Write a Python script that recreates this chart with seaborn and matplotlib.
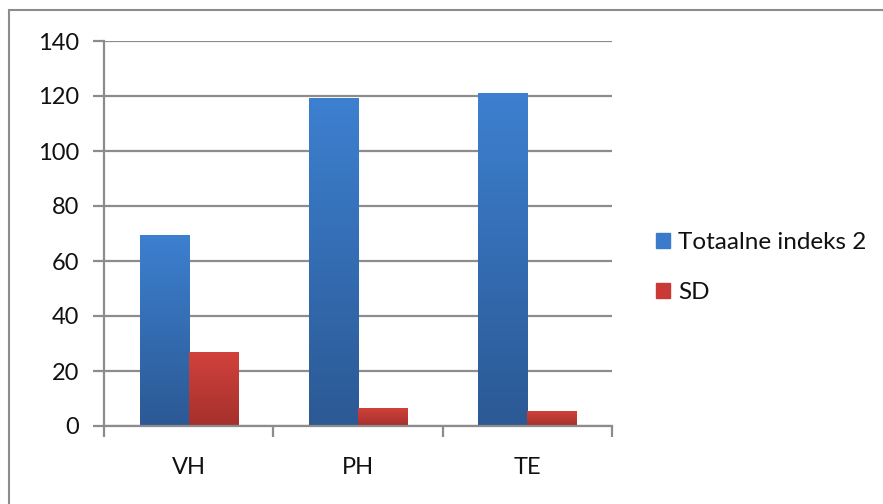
import matplotlib
matplotlib.use("Agg")
import matplotlib.pyplot as plt
import matplotlib.patches as mpatches
from matplotlib.colors import LinearSegmentedColormap
import numpy as np
import pandas as pd
import seaborn as sns

categories = ["VH", "PH", "TE"]
totaalne = [69.5, 119.2, 121.0]
sd = [27.0, 6.7, 5.6]
series_names = ["Totaalne indeks 2", "SD"]

df = pd.DataFrame({
    "cat": categories * 2,
    "value": totaalne + sd,
    "series": [series_names[0]] * 3 + [series_names[1]] * 3,
})

sns.set_style("white")
plt.rcParams["font.family"] = ["Lato", "DejaVu Sans"]

fig = plt.figure(figsize=(8.83, 5.04), dpi=100)
ax = fig.add_axes([104 / 883, 1 - 426 / 504, 508 / 883, 385 / 504])

colors = {"Totaalne indeks 2": "#3a7bcc", "SD": "#c93a36"}
sns.barplot(data=df, x="cat", y="value", hue="series", palette=colors,
            width=0.58, ax=ax, legend=False, saturation=1)

# Excel-ish vertical gradient on each bar
grads = [
    LinearSegmentedColormap.from_list("b", ["#2b5994", "#3d80d0"]),
    LinearSegmentedColormap.from_list("r", ["#a5302c", "#d2423c"]),
]
grad = np.linspace(0, 1, 256).reshape(-1, 1)
for i, patch in enumerate(ax.patches):
    cmap = grads[i // 3]
    x0, y0 = patch.get_x(), patch.get_y()
    w, h = patch.get_width(), patch.get_height()
    im = ax.imshow(grad, cmap=cmap, origin="lower", aspect="auto",
                   extent=[x0, x0 + w, y0, y0 + h], zorder=2)
    im.set_clip_path(patch)
    patch.set_facecolor("none")
    patch.set_edgecolor("none")

ax.set_xlim(-0.5, 2.5)
ax.set_ylim(0, 140)
ax.set_yticks(range(0, 141, 20))
ax.yaxis.grid(True, color="#8c8c8c", linewidth=1.6)
ax.set_axisbelow(True)
ax.set_xlabel("")
ax.set_ylabel("")

for s in ["top", "right"]:
    ax.spines[s].set_visible(False)
for s in ["left", "bottom"]:
    ax.spines[s].set_color("#8c8c8c")
    ax.spines[s].set_linewidth(1.6)

ax.tick_params(axis="y", which="major", left=True, length=8, width=1.6,
               color="#8c8c8c", labelsize=17, pad=10, labelcolor="#111111")
ax.tick_params(axis="x", which="major", bottom=False, labelsize=17,
               pad=19, labelcolor="#111111")
ax.set_xticks([-0.5, 0.5, 1.5, 2.5], minor=True)
ax.tick_params(axis="x", which="minor", bottom=True, length=8, width=1.6,
               color="#8c8c8c")

handles = [mpatches.Patch(color=colors[n], label=n) for n in series_names]
fig.legend(handles=handles, loc="upper left", bbox_to_anchor=(634 / 883, 1 - 210 / 504),
           frameon=False, fontsize=17.5, handlelength=0.6, handleheight=0.6,
           handletextpad=0.3, labelspacing=1.2, labelcolor="#111111")

border = mpatches.Rectangle((9 / 883, -0.05), 1.0, 1 - 10 / 504 + 0.05,
                            transform=fig.transFigure, fill=False,
                            edgecolor="#8c8c8c", linewidth=1.5)
fig.patches.append(border)

fig.savefig("out.png", dpi=100)
